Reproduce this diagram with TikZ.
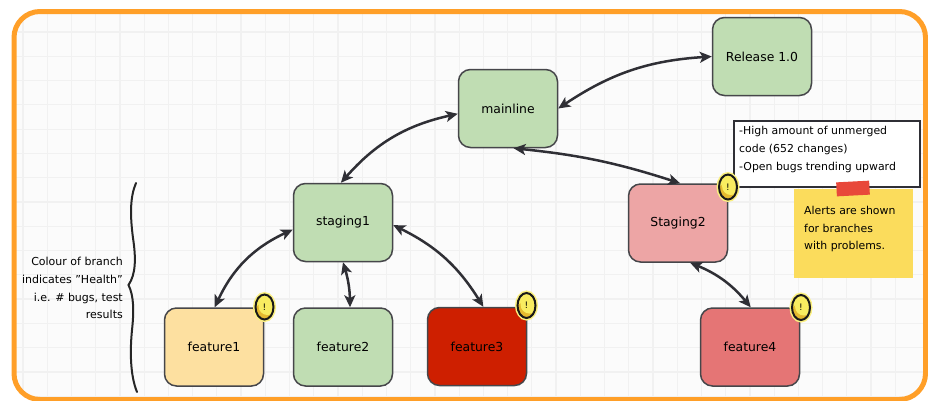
\documentclass[tikz,border=0pt]{standalone}
\usepackage{fontspec}
\setmainfont{DejaVu Sans}
\usetikzlibrary{arrows.meta,shapes.geometric,backgrounds}
\definecolor{framec}{HTML}{FF9F28}
\definecolor{gridc}{HTML}{F1F1F1}
\definecolor{paper}{HTML}{FBFBFB}
\definecolor{inkc}{HTML}{46464A}
\definecolor{arrowc}{HTML}{2F2F35}
\definecolor{greenb}{HTML}{C0DDB3}
\definecolor{amberb}{HTML}{FDE0A0}
\definecolor{redb}{HTML}{CE1F00}
\definecolor{roseb}{HTML}{EDA5A5}
\definecolor{coralb}{HTML}{E57575}
\definecolor{stickyc}{HTML}{FBDC5C}
\definecolor{tapec}{HTML}{E8483A}
\definecolor{badgec}{HTML}{F8EC60}
\definecolor{badgeglow}{HTML}{FBF080}
\definecolor{badgedark}{HTML}{E4B930}
\tikzset{
  x=1pt,y=-1pt,
  every node/.style={font=\fontsize{12.4}{17}\selectfont,text=black},
  branch/.style={draw=inkc,line width=1.5pt,rounded corners=12pt,minimum width=99pt,minimum height=78pt,inner sep=0pt},
  link/.style={draw=arrowc,line width=2.5pt,{Stealth[length=12pt,width=11pt,inset=3pt]}-{Stealth[length=12pt,width=11pt,inset=3pt]}},
  badge/.style={ellipse,draw=black!90,line width=2pt,fill=badgec,
    preaction={draw=badgeglow,line width=5pt},
    minimum width=18pt,minimum height=25pt,inner sep=0pt,font=\fontsize{9}{9}\selectfont,
    path picture={
      \fill[badgedark] (path picture bounding box.center) ++(-2,6) circle[radius=9pt];
      \fill[badgec] (path picture bounding box.center) ++(3,-1) circle[radius=9pt];
    }},
  notetext/.style={align=left,anchor=north west,inner sep=0pt,font=\fontsize{10.9}{17.6}\selectfont},
}
\begin{document}
\begin{tikzpicture}
\useasboundingbox (0,0) rectangle (928,400);
\fill[white] (0,0) rectangle (928,400);
\begin{scope}
  \clip[rounded corners=26pt] (14,11.5) rectangle (925.5,399.5);
  \fill[paper] (14,11.5) rectangle (925.5,399.5);
  \foreach \gn in {0,...,36} \draw[gridc,line width=1.2pt] ({23+24.23*\gn},11) -- ({23+24.23*\gn},400);
  \foreach \gn in {0,...,15} \draw[gridc,line width=1.2pt] (14,{32+24.28*\gn}) -- (926,{32+24.28*\gn});
\end{scope}
\draw[framec,line width=5pt,rounded corners=26pt] (14,11.5) rectangle (925.5,399.5);

\node[branch,fill=greenb] (rel) at (762,56.5) {Release 1.0};
\node[branch,fill=greenb] (main) at (508,108.5) {mainline};
\node[branch,fill=greenb] (st1) at (343,222.5) {staging1};
\node[branch,fill=roseb] (st2) at (678,223) {Staging2};
\node[branch,fill=amberb] (f1) at (214,347) {feature1};
\node[branch,fill=greenb] (f2) at (343,347) {feature2};
\node[branch,fill=redb] (f3) at (477,346.5) {feature3};
\node[branch,fill=coralb] (f4) at (750,347) {feature4};

\draw[link] (rel.west) to[bend right=15] (main.east);
\draw[link] (main.186) to[bend right=18] (st1.93);
\draw[link] (main.278) to[bend left=6] (st2.87);
\draw[link] (st1.188) to[bend right=20] (f1.89);
\draw[link] (st1.270) to[bend left=8] (f2.80);
\draw[link] (st1.357) to[bend left=16] (f3.81);
\draw[link] (st2.287) to[bend left=14] (f4.89);

\node[draw=arrowc,line width=1.2pt,fill=white,minimum width=186pt,minimum height=66pt,inner sep=0pt] (note) at (827,154) {};
\node[notetext] (notetxt) at (739,126.5) {-High amount of unmerged\\code (652 changes)\\-Open bugs trending upward};
\node[badge] (b2) at (728,187) {!};
\node[badge] (b1) at (264.5,307) {!};
\node[badge] (b3) at (526.5,305.5) {!};
\node[badge] (b4) at (801,307.5) {!};

\node[fill=stickyc,minimum width=119pt,minimum height=89pt,inner sep=0pt] (sticky) at (853,233.5) {};
\node[fill=tapec,rotate=3,minimum width=33pt,minimum height=14pt,inner sep=0pt] (tape) at (853,188.5) {};
\node[notetext] (stickytxt) at (804,206) {Alerts are shown\\for branches\\with problems.};

\draw[black!85,line width=2pt,line cap=round] (136,183) .. controls (130,197) and (130,215) .. (133,238) .. controls (136,258) and (136,274) .. (128.5,285) .. controls (134,296) and (134,312) .. (132,330) .. controls (130,350) and (130,375) .. (137,392);
\node[align=right,anchor=north east,inner sep=0pt,font=\fontsize{11}{17.8}\selectfont] (legend) at (123,257) {Colour of branch\\indicates "Health"\\i.e. \# bugs, test\\results};
\end{tikzpicture}
\end{document}
